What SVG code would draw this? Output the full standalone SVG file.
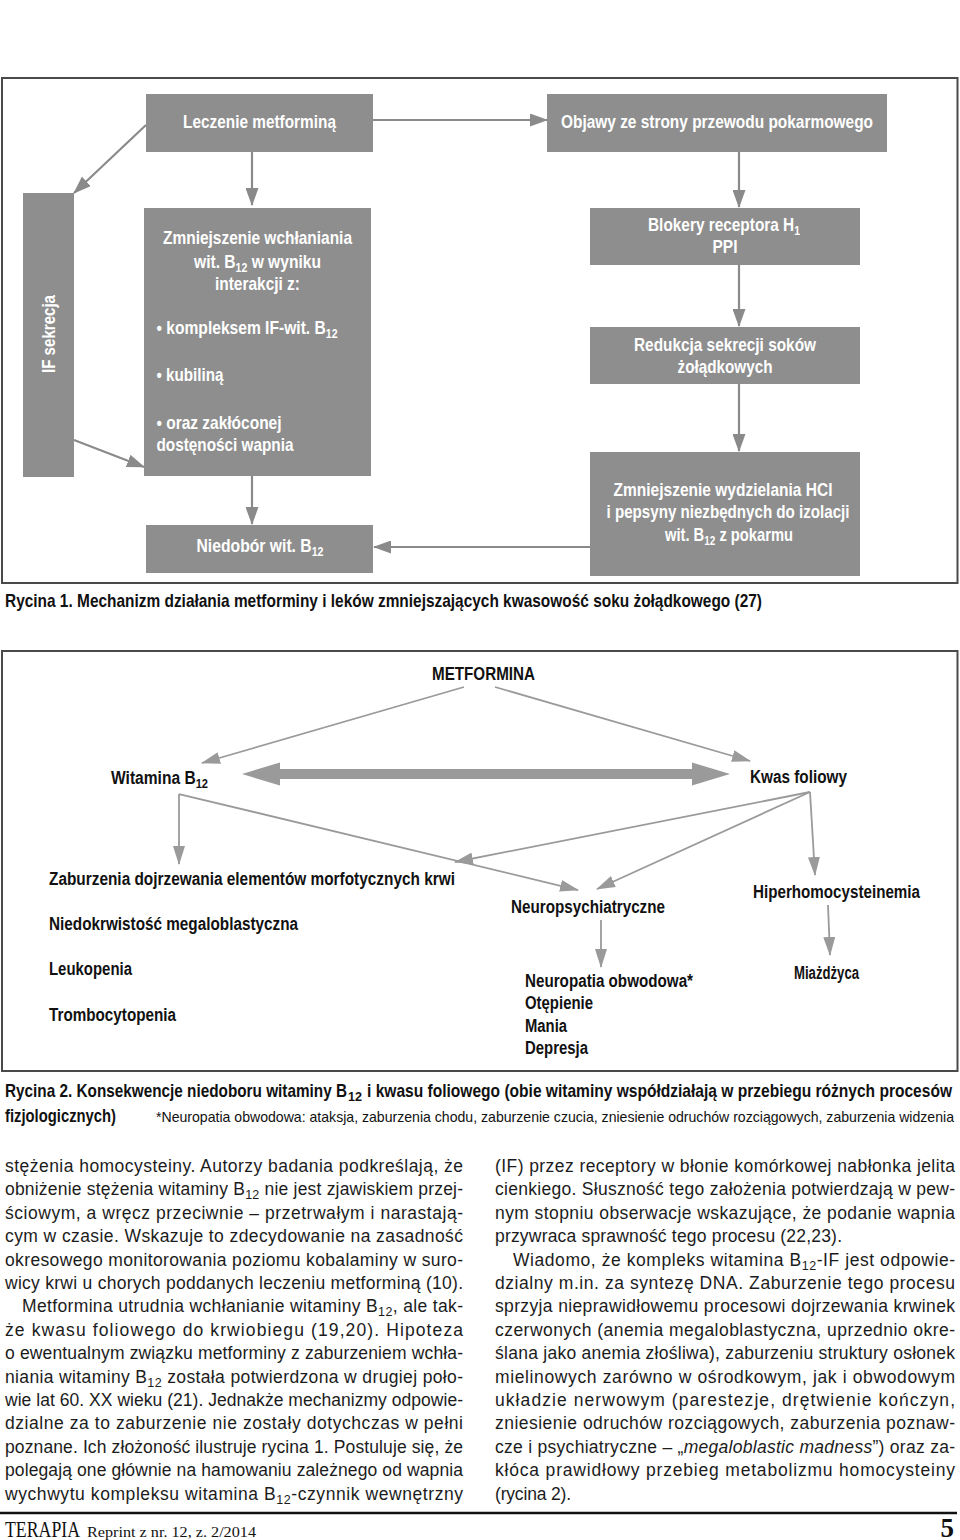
<svg xmlns="http://www.w3.org/2000/svg" width="960" height="1540" viewBox="0 0 960 1540">
<style>
.bg{fill:#ffffff}
.frame{fill:none;stroke:#4a4a4a;stroke-width:2}
.box{fill:#8e8e8e}
.c1{fill:none;stroke:#8a8a8a;stroke-width:2.2}
.c2{fill:none;stroke:#9a9a9a;stroke-width:1.8}
.wt{fill:#ffffff;font-family:"Liberation Sans",Arial,sans-serif;font-size:18.5px;font-weight:bold}
.bt{fill:#111111;font-family:"Liberation Sans",Arial,sans-serif;font-size:17.5px;font-weight:bold}
.cap{fill:#111111;font-family:"Liberation Sans",Arial,sans-serif;font-size:18.5px;font-weight:bold}
.note{fill:#111111;font-family:"Liberation Sans",Arial,sans-serif;font-size:14.5px}
.body{fill:#1c1c1c;font-family:"Liberation Sans",Arial,sans-serif;font-size:17.5px}
.s{font-size:12.5px}
.mid{text-anchor:middle}
.serif{fill:#111111;font-family:"Liberation Serif","Times New Roman",serif}
</style>
<defs>
<marker id="a1" markerUnits="userSpaceOnUse" markerWidth="18" markerHeight="13" refX="17" refY="6.5" orient="auto">
<path d="M0,0 L18,6.5 L0,13 z" fill="#8a8a8a"/>
</marker>
<marker id="a2" markerUnits="userSpaceOnUse" markerWidth="19" markerHeight="12" refX="18" refY="6" orient="auto">
<path d="M0,0 L19,6 L0,12 z" fill="#9a9a9a"/>
</marker>
</defs>
<rect class="bg" x="0" y="0" width="960" height="1540"/>

<!-- Figure 1 -->
<rect class="frame" x="2" y="78" width="955.5" height="505"/>

<g id="connectors1">
<line class="c1" x1="373" y1="120" x2="547" y2="120" marker-end="url(#a1)"/>
<line class="c1" x1="252" y1="152" x2="252" y2="205" marker-end="url(#a1)"/>
<line class="c1" x1="146" y1="125" x2="74" y2="193" marker-end="url(#a1)"/>
<line class="c1" x1="74" y1="440" x2="144" y2="467" marker-end="url(#a1)"/>
<line class="c1" x1="252" y1="476" x2="252" y2="524" marker-end="url(#a1)"/>
<line class="c1" x1="739" y1="152" x2="739" y2="207" marker-end="url(#a1)"/>
<line class="c1" x1="739" y1="265" x2="739" y2="326" marker-end="url(#a1)"/>
<line class="c1" x1="739" y1="384" x2="739" y2="451" marker-end="url(#a1)"/>
<line class="c1" x1="590" y1="547" x2="374" y2="547" marker-end="url(#a1)"/>
</g>

<g id="n-leczenie">
<rect class="box" x="146" y="94" width="227" height="58"/>
<text class="wt mid" x="259.5" y="128" textLength="153" lengthAdjust="spacingAndGlyphs">Leczenie metforminą</text>
</g>
<g id="n-objawy">
<rect class="box" x="547" y="94" width="340" height="58"/>
<text class="wt mid" x="717" y="128" textLength="312" lengthAdjust="spacingAndGlyphs">Objawy ze strony przewodu pokarmowego</text>
</g>
<g id="n-if">
<rect class="box" x="23" y="193" width="51" height="284"/>
<text class="wt mid" transform="translate(55,334) rotate(-90)" x="0" y="0" textLength="78" lengthAdjust="spacingAndGlyphs">IF sekrecja</text>
</g>
<g id="n-zmniejszenie">
<rect class="box" x="144" y="208" width="227" height="268"/>
<text class="wt mid" x="257.5" y="244" textLength="189" lengthAdjust="spacingAndGlyphs">Zmniejszenie wchłaniania</text>
<text class="wt mid" x="257.5" y="267.5" textLength="127" lengthAdjust="spacingAndGlyphs">wit. B<tspan class="s" dy="4">12</tspan><tspan dy="-4"> w wyniku</tspan></text>
<text class="wt mid" x="257.5" y="290" textLength="85" lengthAdjust="spacingAndGlyphs">interakcji z:</text>
<text class="wt" x="156.5" y="334" textLength="181" lengthAdjust="spacingAndGlyphs">• kompleksem IF-wit. B<tspan class="s" dy="4">12</tspan></text>
<text class="wt" x="156.5" y="381" textLength="67" lengthAdjust="spacingAndGlyphs">• kubiliną</text>
<text class="wt" x="156.5" y="429" textLength="125" lengthAdjust="spacingAndGlyphs">• oraz zakłóconej</text>
<text class="wt" x="156.5" y="451" textLength="137" lengthAdjust="spacingAndGlyphs">dostęności wapnia</text>
</g>
<g id="n-niedobor">
<rect class="box" x="146" y="525" width="227" height="48"/>
<text class="wt mid" x="260" y="552" textLength="127" lengthAdjust="spacingAndGlyphs">Niedobór wit. B<tspan class="s" dy="4">12</tspan></text>
</g>
<g id="n-blokery">
<rect class="box" x="590" y="208" width="270" height="57"/>
<text class="wt mid" x="724" y="230.5" textLength="152" lengthAdjust="spacingAndGlyphs">Blokery receptora H<tspan class="s" dy="4">1</tspan></text>
<text class="wt mid" x="725" y="253" textLength="25" lengthAdjust="spacingAndGlyphs">PPI</text>
</g>
<g id="n-redukcja">
<rect class="box" x="590" y="327" width="270" height="57"/>
<text class="wt mid" x="725" y="351" textLength="182" lengthAdjust="spacingAndGlyphs">Redukcja sekrecji soków</text>
<text class="wt mid" x="725" y="373" textLength="95" lengthAdjust="spacingAndGlyphs">żołądkowych</text>
</g>
<g id="n-hcl">
<rect class="box" x="590" y="452" width="270" height="124"/>
<text class="wt mid" x="723" y="496" textLength="219" lengthAdjust="spacingAndGlyphs">Zmniejszenie wydzielania HCl</text>
<text class="wt mid" x="728" y="518" textLength="243" lengthAdjust="spacingAndGlyphs">i pepsyny niezbędnych do izolacji</text>
<text class="wt mid" x="729" y="541" textLength="128" lengthAdjust="spacingAndGlyphs">wit. B<tspan class="s" dy="4">12</tspan><tspan dy="-4"> z pokarmu</tspan></text>
</g>

<text class="cap" x="5" y="607" textLength="757" lengthAdjust="spacingAndGlyphs">Rycina 1. Mechanizm działania metforminy i leków zmniejszających kwasowość soku żołądkowego (27)</text>

<!-- Figure 2 -->
<rect class="frame" x="2" y="651" width="955.5" height="420"/>

<g id="connectors2">
<line class="c2" x1="464" y1="687" x2="202" y2="763" marker-end="url(#a2)"/>
<line class="c2" x1="495" y1="687" x2="750" y2="761" marker-end="url(#a2)"/>
<polygon fill="#9a9a9a" points="242,774 280,762.5 280,769 692,769 692,762.5 730,774 692,785.5 692,779 280,779 280,785.5"/>
<line class="c2" x1="179" y1="794" x2="179" y2="864" marker-end="url(#a2)"/>
<line class="c2" x1="179" y1="794" x2="578" y2="890" marker-end="url(#a2)"/>
<line class="c2" x1="810" y1="792" x2="455" y2="862" marker-end="url(#a2)"/>
<line class="c2" x1="810" y1="792" x2="597" y2="889" marker-end="url(#a2)"/>
<line class="c2" x1="810" y1="792" x2="815" y2="875" marker-end="url(#a2)"/>
<line class="c2" x1="601" y1="920" x2="601" y2="967" marker-end="url(#a2)"/>
<line class="c2" x1="828" y1="905" x2="830" y2="955" marker-end="url(#a2)"/>
</g>

<g id="n-metformina"><text class="bt" x="432" y="680" textLength="103" lengthAdjust="spacingAndGlyphs">METFORMINA</text></g>
<g id="n-witamina"><text class="bt" x="111" y="784" textLength="97" lengthAdjust="spacingAndGlyphs">Witamina B<tspan class="s" dy="4">12</tspan></text></g>
<g id="n-kwas"><text class="bt" x="750" y="783" textLength="97" lengthAdjust="spacingAndGlyphs">Kwas foliowy</text></g>
<g id="n-krew">
<text class="bt" x="49" y="885" textLength="406" lengthAdjust="spacingAndGlyphs">Zaburzenia dojrzewania elementów morfotycznych krwi</text>
<text class="bt" x="49" y="930" textLength="249" lengthAdjust="spacingAndGlyphs">Niedokrwistość megaloblastyczna</text>
<text class="bt" x="49" y="975" textLength="83" lengthAdjust="spacingAndGlyphs">Leukopenia</text>
<text class="bt" x="49" y="1021" textLength="127" lengthAdjust="spacingAndGlyphs">Trombocytopenia</text>
</g>
<g id="n-neuro"><text class="bt" x="511" y="912.5" textLength="154" lengthAdjust="spacingAndGlyphs">Neuropsychiatryczne</text></g>
<g id="n-neuropatia">
<text class="bt" x="525" y="986.5" textLength="168" lengthAdjust="spacingAndGlyphs">Neuropatia obwodowa*</text>
<text class="bt" x="525" y="1009" textLength="68" lengthAdjust="spacingAndGlyphs">Otępienie</text>
<text class="bt" x="525" y="1031.5" textLength="42" lengthAdjust="spacingAndGlyphs">Mania</text>
<text class="bt" x="525" y="1053.5" textLength="63" lengthAdjust="spacingAndGlyphs">Depresja</text>
</g>
<g id="n-hiper"><text class="bt" x="753" y="897.5" textLength="167" lengthAdjust="spacingAndGlyphs">Hiperhomocysteinemia</text></g>
<g id="n-miazdzyca"><text class="bt" x="794" y="979" textLength="65" lengthAdjust="spacingAndGlyphs">Miażdżyca</text></g>

<text class="cap" x="5" y="1097" textLength="342" lengthAdjust="spacingAndGlyphs">Rycina 2. Konsekwencje niedoboru witaminy B</text>
<text class="cap s" x="348" y="1101" textLength="14" lengthAdjust="spacingAndGlyphs">12</text>
<text class="cap" x="367" y="1097" textLength="585" lengthAdjust="spacingAndGlyphs">i kwasu foliowego (obie witaminy współdziałają w przebiegu różnych procesów</text>
<text class="cap" x="5" y="1121.5" textLength="111" lengthAdjust="spacingAndGlyphs">fizjologicznych)</text>
<text class="note" x="156" y="1121.5" textLength="798" lengthAdjust="spacingAndGlyphs">*Neuropatia obwodowa: ataksja, zaburzenia chodu, zaburzenie czucia, zniesienie odruchów rozciągowych, zaburzenia widzenia</text>

<!-- Body text, left column -->
<text class="body" x="5" y="1172" textLength="458">stężenia homocysteiny. Autorzy badania podkreślają, że</text>
<text class="body" x="5" y="1195.4" textLength="458">obniżenie stężenia witaminy B<tspan class="s" dy="4">12</tspan><tspan dy="-4"> nie jest zjawiskiem przej-</tspan></text>
<text class="body" x="5" y="1218.8" textLength="458">ściowym, a wręcz przeciwnie – przetrwałym i narastają-</text>
<text class="body" x="5" y="1242.2" textLength="458">cym w czasie. Wskazuje to zdecydowanie na zasadność</text>
<text class="body" x="5" y="1265.6" textLength="458">okresowego monitorowania poziomu kobalaminy w suro-</text>
<text class="body" x="5" y="1289" textLength="458">wicy krwi u chorych poddanych leczeniu metforminą (10).</text>
<text class="body" x="22" y="1312.4" textLength="441">Metformina utrudnia wchłanianie witaminy B<tspan class="s" dy="4">12</tspan><tspan dy="-4">, ale tak-</tspan></text>
<text class="body" x="5" y="1335.8" textLength="458">że kwasu foliowego do krwiobiegu (19,20). Hipoteza</text>
<text class="body" x="5" y="1359.2" textLength="458">o ewentualnym związku metforminy z zaburzeniem wchła-</text>
<text class="body" x="5" y="1382.6" textLength="458">niania witaminy B<tspan class="s" dy="4">12</tspan><tspan dy="-4"> została potwierdzona w drugiej poło-</tspan></text>
<text class="body" x="5" y="1406" textLength="458">wie lat 60. XX wieku (21). Jednakże mechanizmy odpowie-</text>
<text class="body" x="5" y="1429.4" textLength="458">dzialne za to zaburzenie nie zostały dotychczas w pełni</text>
<text class="body" x="5" y="1452.8" textLength="458">poznane. Ich złożoność ilustruje rycina 1. Postuluje się, że</text>
<text class="body" x="5" y="1476.2" textLength="458">polegają one głównie na hamowaniu zależnego od wapnia</text>
<text class="body" x="5" y="1499.6" textLength="458">wychwytu kompleksu witamina B<tspan class="s" dy="4">12</tspan><tspan dy="-4">-czynnik wewnętrzny</tspan></text>

<!-- Body text, right column -->
<text class="body" x="495" y="1172" textLength="460">(IF) przez receptory w błonie komórkowej nabłonka jelita</text>
<text class="body" x="495" y="1195.4" textLength="460">cienkiego. Słuszność tego założenia potwierdzają w pew-</text>
<text class="body" x="495" y="1218.8" textLength="460">nym stopniu obserwacje wskazujące, że podanie wapnia</text>
<text class="body" x="495" y="1242.2" textLength="347">przywraca sprawność tego procesu (22,23).</text>
<text class="body" x="513" y="1265.6" textLength="442">Wiadomo, że kompleks witamina B<tspan class="s" dy="4">12</tspan><tspan dy="-4">-IF jest odpowie-</tspan></text>
<text class="body" x="495" y="1289" textLength="460">dzialny m.in. za syntezę DNA. Zaburzenie tego procesu</text>
<text class="body" x="495" y="1312.4" textLength="460">sprzyja nieprawidłowemu procesowi dojrzewania krwinek</text>
<text class="body" x="495" y="1335.8" textLength="460">czerwonych (anemia megaloblastyczna, uprzednio okre-</text>
<text class="body" x="495" y="1359.2" textLength="460">ślana jako anemia złośliwa), zaburzeniu struktury osłonek</text>
<text class="body" x="495" y="1382.6" textLength="460">mielinowych zarówno w ośrodkowym, jak i obwodowym</text>
<text class="body" x="495" y="1406" textLength="460">układzie nerwowym (parestezje, drętwienie kończyn,</text>
<text class="body" x="495" y="1429.4" textLength="460">zniesienie odruchów rozciągowych, zaburzenia poznaw-</text>
<text class="body" x="495" y="1452.8" textLength="460">cze i psychiatryczne – „<tspan font-style="italic">megaloblastic madness</tspan>”) oraz za-</text>
<text class="body" x="495" y="1476.2" textLength="460">kłóca prawidłowy przebieg metabolizmu homocysteiny</text>
<text class="body" x="495" y="1499.6" textLength="76">(rycina 2).</text>

<!-- Footer -->
<line x1="0" y1="1513" x2="957" y2="1513" stroke="#111111" stroke-width="2.5"/>
<text class="serif" x="5" y="1537" font-size="22.5" textLength="75" lengthAdjust="spacingAndGlyphs">TERAPIA</text>
<text class="serif" x="87" y="1537" font-size="15.5" textLength="169" lengthAdjust="spacingAndGlyphs">Reprint z nr. 12, z. 2/2014</text>
<text class="serif" x="954" y="1537" font-size="27" font-weight="bold" text-anchor="end">5</text>
</svg>
